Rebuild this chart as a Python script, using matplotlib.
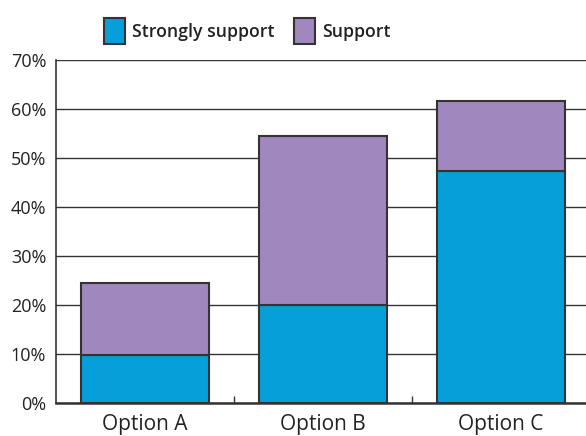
import numpy as np
import matplotlib
matplotlib.use("Agg")
from matplotlib import pyplot as plt
from matplotlib.patches import Patch
from matplotlib.ticker import FixedLocator

plt.rcParams["font.family"] = ["Open Sans", "DejaVu Sans"]

# survey results, percent of respondents
options = ["Option A", "Option B", "Option C"]
strongly_support = [9.8, 20.0, 47.3]
support = [14.7, 34.5, 14.3]
yticks = [0, 10, 20, 30, 40, 50, 60, 70]

blue = "#079fda"
purple = "#a087bd"
edge = "#333333"


def main():
    fig = plt.figure(figsize=(5.86, 4.36), dpi=100)
    ax = fig.add_axes([56 / 586, 33 / 436, 530 / 586, 343 / 436])

    x = np.arange(len(options))
    ax.bar(x, strongly_support, width=0.72, color=blue, edgecolor=edge, linewidth=1.5, zorder=3)
    ax.bar(x, support, width=0.72, bottom=strongly_support, color=purple, edgecolor=edge,
           linewidth=1.5, zorder=3)

    ax.set_xlim(-0.5, -0.5 + 530 / 178)
    ax.set_ylim(0, 70)
    ax.set_yticks(yticks)
    ax.set_yticklabels([f"{v}%" for v in yticks], fontsize=13, color="#222222")
    ax.tick_params(axis="y", length=0, pad=7)
    ax.yaxis.grid(True, color="#333333", linewidth=1, zorder=0)

    ax.set_xticks(x)
    ax.set_xticklabels(options, fontsize=15, color="#222222")
    ax.tick_params(axis="x", which="major", length=0, pad=8)
    ax.xaxis.set_minor_locator(FixedLocator([0.5, 1.5]))
    ax.tick_params(axis="x", which="minor", direction="in", length=5, width=1, color="#333333")

    for side in ["top", "right"]:
        ax.spines[side].set_visible(False)
    ax.spines["left"].set_color("#333333")
    ax.spines["left"].set_linewidth(1.2)
    ax.spines["bottom"].set_color("#333333")
    ax.spines["bottom"].set_linewidth(1.8)
    ax.spines["bottom"].set_zorder(4)

    handles = [Patch(facecolor=blue, edgecolor=edge, linewidth=1.5, label="Strongly support"),
               Patch(facecolor=purple, edgecolor=edge, linewidth=1.5, label="Support")]
    leg = fig.legend(handles=handles, loc="center", bbox_to_anchor=(247 / 586, 1 - 31 / 436), ncol=2,
                     frameon=False, handlelength=1.2, handleheight=1.9, handletextpad=0.4,
                     columnspacing=1.1, borderpad=0, prop={"weight": "semibold", "size": 12.7})
    for t in leg.get_texts():
        t.set_color("#222222")

    plt.savefig("out.png", dpi=100)


if __name__ == "__main__":
    main()
